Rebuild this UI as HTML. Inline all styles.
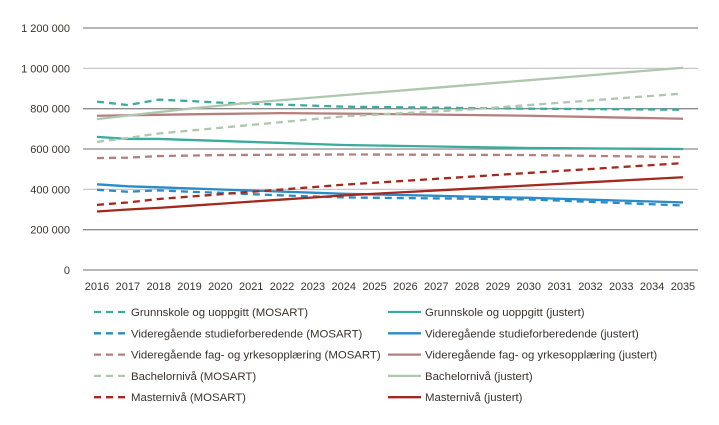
<!DOCTYPE html>
<html><head><meta charset="utf-8"><style>
body{margin:0;background:#fff;}
svg{display:block;font-family:"Liberation Sans",sans-serif;}
text{fill:#3a3330;font-size:11px;}
</style></head><body>
<svg id="s" width="719" height="425" xmlns="http://www.w3.org/2000/svg"></svg>
<script>
const s=document.getElementById('s');let h='';
const Y=v=>270-v/200000*40.33, X=i=>97+i*30.84;
const grid=[[0,'#8c8c8c','0'],[200000,'#8c8c8c','200 000'],[400000,'#c8c8c8','400 000'],[600000,'#8c8c8c','600 000'],[800000,'#8c8c8c','800 000'],[1000000,'#c8c8c8','1 000 000'],[1200000,'#8c8c8c','1 200 000']];
for(const [v,c,l] of grid){const y=Y(v);h+=`<line x1="83" x2="698" y1="${y}" y2="${y}" stroke="${c}" stroke-width="1.3"/><text x="70" y="${y+4}" text-anchor="end">${l}</text>`;}
for(let i=0;i<20;i++)h+=`<text x="${X(i)}" y="290" text-anchor="middle">${2016+i}</text>`;
function interp(k){const a=[];const ks=Object.keys(k).map(Number).sort((a,b)=>a-b);for(let i=0;i<20;i++){let j=0;while(j<ks.length-1&&ks[j+1]<=i)j++;if(j==ks.length-1){a.push(k[ks[j]]);continue;}const t=(i-ks[j])/(ks[j+1]-ks[j]);a.push(k[ks[j]]+(k[ks[j+1]]-k[ks[j]])*t);}return a;}
const S=[
['#3aab9c',1,{0:835000,1:818000,2:845000,3:838000,4:830000,5:825000,8:810000,14:800000,19:795000}],
['#3aab9c',0,{0:660000,1:650000,2:650000,8:620000,14:605000,19:600000}],
['#2a8bc6',1,{0:398000,1:388000,2:395000,3:388000,4:383000,5:376000,6:370000,7:365000,8:360000,14:350000,19:320000}],
['#2a8bc6',0,{0:425000,1:415000,2:410000,8:378000,14:358000,19:335000}],
['#b57f7d',1,{0:555000,1:557000,2:565000,4:570000,8:573000,14:570000,19:560000}],
['#b57f7d',0,{0:765000,3:772000,6:778000,9:774000,14:765000,19:750000}],
['#aec7ad',1,{0:635000,1:655000,2:677000,8:762000,12:795000,19:875000}],
['#aec7ad',0,{0:748000,1:766000,3:800000,5:830000,19:1003000}],
['#a3291f',1,{0:323000,1:335000,2:352000,8:423000,19:530000}],
['#a3291f',0,{0:290000,1:300000,2:308000,8:370000,19:460000}]];
for(const [c,d,k] of S){const a=interp(k);h+=`<polyline fill="none" stroke="${c}" stroke-width="2.3" ${d?'stroke-dasharray="7,5"':''} points="${a.map((v,i)=>X(i)+','+Y(v)).join(' ')}"/>`;}
const L=['Grunnskole og uoppgitt','Videregående studieforberedende','Videregående fag- og yrkesopplæring','Bachelornivå','Masternivå'];
L.forEach((l,i)=>{const y=312+i*21.3,c=S[i*2][0];
h+=`<line x1="94" x2="125" y1="${y}" y2="${y}" stroke="${c}" stroke-width="2.3" stroke-dasharray="7,5"/><text x="131" y="${y+4}" style="font-size:11.4px">${l} (MOSART)</text>`;
h+=`<line x1="388" x2="421" y1="${y}" y2="${y}" stroke="${c}" stroke-width="2.3"/><text x="425" y="${y+4}" style="font-size:11.4px">${l} (justert)</text>`;});
s.innerHTML=h;
</script>
</body></html>
